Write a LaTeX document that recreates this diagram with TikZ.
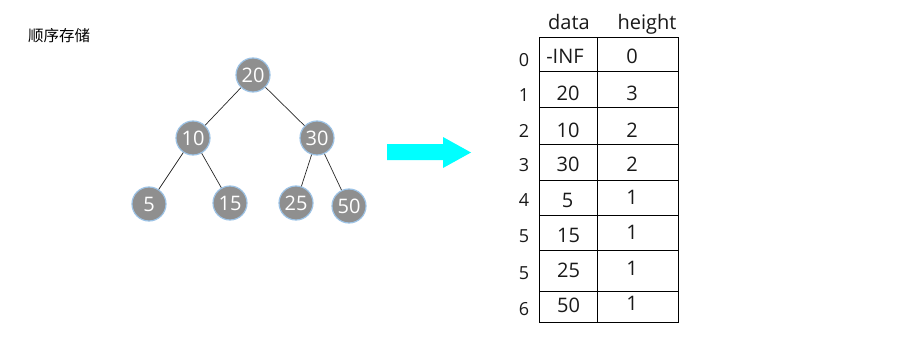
\documentclass[tikz,border=0pt]{standalone}
\usepackage{fontspec}
\setmainfont{Open Sans}
\newfontfamily\cjk{Noto Sans CJK SC}
\definecolor{nodegray}{RGB}{143,143,143}
\definecolor{nodeblue}{RGB}{157,195,230}
\definecolor{arrowcyan}{RGB}{0,255,255}
\begin{document}
\begin{tikzpicture}[x=1pt,y=-1pt,
  tnode/.style={circle,fill=nodegray,draw=nodeblue,line width=1.2pt,minimum size=34pt,inner sep=0pt,text=white,font=\fontsize{20}{20}\selectfont},
  edge/.style={draw=black!85,line width=0.7pt},
  cell/.style={inner sep=0pt,font=\fontsize{20}{20}\selectfont,text=black!90},
  idx/.style={inner sep=0pt,font=\fontsize{18}{18}\selectfont,text=black!90},
  grid/.style={draw=black,line width=1pt}]
\useasboundingbox (0,0) rectangle (920,350);
% title
\node[inner sep=0pt,font=\cjk\fontsize{15.5}{16}\selectfont] (title) at (59,36) {顺序存储};
% tree
\node[tnode] (n20) at (253,75) {20};
\node[tnode] (n10) at (193,138) {10};
\node[tnode] (n30) at (317,138) {30};
\node[tnode] (n5) at (149,204) {5};
\node[tnode] (n15) at (230,203) {15};
\node[tnode] (n25) at (296,203) {25};
\node[tnode] (n50) at (349,206) {50};
\draw[edge] (n20) -- (n10);
\draw[edge] (n20) -- (n30);
\draw[edge] (n10) -- (n5);
\draw[edge] (n10) -- (n15);
\draw[edge] (n30) -- (n25);
\draw[edge] (n30) -- (n50);
% arrow
\fill[arrowcyan] (387,144) -- (443,144) -- (443,137) -- (471,152.5) -- (443,168) -- (443,160) -- (387,160) -- cycle;
% table grid
\draw[grid] (539.3,37.3) rectangle (678.3,322.3);
\draw[grid] (597.3,37.3) -- (597.3,322.3);
\foreach \yy in {71.7,107.7,144.3,180,215,250.7,291.7}
  \draw[grid] (539.3,\yy) -- (678.3,\yy);
% headers
\node[cell,anchor=base] (hdata) at (569,29.5) {data};
\node[cell,anchor=base] (hheight) at (647,29.5) {height};
% data column
\node[cell] (d0) at (565,56) {-INF};
\node[cell] (d1) at (568,93) {20};
\node[cell] (d2) at (568,130) {10};
\node[cell] (d3) at (568,164) {30};
\node[cell] (d4) at (567.5,200.5) {5};
\node[cell] (d5) at (568.5,235.5) {15};
\node[cell] (d6) at (568.5,270) {25};
\node[cell] (d7) at (568.5,305.5) {50};
% height column
\node[cell] (h0) at (632,56) {0};
\node[cell] (h1) at (632,93.5) {3};
\node[cell] (h2) at (632,130) {2};
\node[cell] (h3) at (632,164) {2};
\node[cell] (h4) at (632,197) {1};
\node[cell] (h5) at (632,232) {1};
\node[cell] (h6) at (632,268) {1};
\node[cell] (h7) at (632,303) {1};
% index column
\node[idx] (i0) at (524,60) {0};
\node[idx] (i1) at (524,95.5) {1};
\node[idx] (i2) at (524,131) {2};
\node[idx] (i3) at (524,165) {3};
\node[idx] (i4) at (524,200) {4};
\node[idx] (i5) at (524,236.5) {5};
\node[idx] (i6) at (524,273.5) {5};
\node[idx] (i7) at (524,309.5) {6};
\end{tikzpicture}
\end{document}
